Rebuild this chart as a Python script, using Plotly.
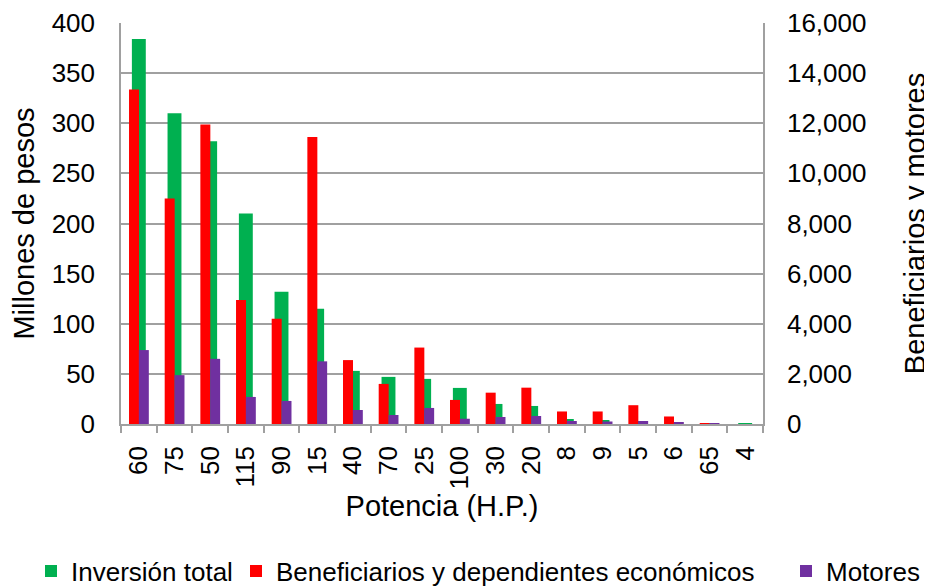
import plotly.graph_objects as go

potencia = ["60", "75", "50", "115", "90", "15", "40", "70", "25", "100",
            "30", "20", "8", "9", "5", "6", "65", "4"]
inversion = [384, 310, 282, 210, 132, 115, 53, 47, 45, 36,
             20, 18, 5, 4, 3, 1, 0.5, 0.2]
beneficiarios = [13350, 9000, 11950, 4950, 4200, 11450, 2550, 1600, 3050, 960,
                 1250, 1450, 500, 500, 750, 300, 20, 0]
motores = [2950, 1950, 2600, 1080, 920, 2500, 560, 360, 640, 210,
           280, 320, 120, 100, 120, 50, 20, 0]

FONT = "Liberation Sans, Arial, sans-serif"
GRID = "#a0a0a0"
# the page body has an 8px margin, so the figure is drawn 8px smaller
W, H = 924, 578

fig = go.Figure()
fig.add_trace(go.Bar(
    x=potencia, y=inversion, name="Inversión total",
    marker=dict(color="#00B050", line=dict(width=0)),
    width=0.39, offset=-0.195, yaxis="y", legend="legend",
))
fig.add_trace(go.Bar(
    x=potencia, y=beneficiarios, name="Beneficiarios y dependientes económicos",
    marker=dict(color="#FF0000", line=dict(width=0)),
    width=0.28, offset=-0.275, yaxis="y2", legend="legend2",
))
fig.add_trace(go.Bar(
    x=potencia, y=motores, name="Motores",
    marker=dict(color="#7030A0", line=dict(width=0)),
    width=0.28, offset=0.0, yaxis="y2", legend="legend3",
))

# one legend per series so the row can span the whole width
leg = dict(orientation="h", xref="container", yref="container",
           xanchor="left", y=1 - 563 / H, yanchor="middle",
           font=dict(size=26), itemwidth=30, bgcolor="rgba(0,0,0,0)")

fig.update_layout(
    width=W, height=H,
    margin=dict(l=113, r=169, t=15, b=162, autoexpand=False),
    paper_bgcolor="white", plot_bgcolor="white",
    font=dict(family=FONT, size=24, color="black"),
    barmode="overlay", showlegend=True,
    xaxis=dict(
        type="category", tickangle=-90, tickson="boundaries",
        ticks="outside", ticklen=7, tickcolor=GRID, tickwidth=1.5,
        showline=True, linecolor=GRID, linewidth=1.5,
        showgrid=False, automargin=False,
        tickfont=dict(size=26), ticklabelstandoff=10,
        title=dict(text="Potencia (H.P.)", standoff=5),
    ),
    yaxis=dict(
        range=[0, 400], dtick=50,
        showgrid=True, gridcolor=GRID, gridwidth=1.5,
        showline=True, linecolor=GRID, linewidth=1.5,
        ticks="", ticklabelstandoff=19, zeroline=False, automargin=False,
        tickfont=dict(size=26),
        title=dict(text="Millones de pesos", standoff=21),
    ),
    yaxis2=dict(
        range=[0, 16000], dtick=2000, tickformat=",d",
        overlaying="y", side="right",
        showgrid=False, zeroline=False, automargin=False,
        showline=True, linecolor=GRID, linewidth=1.5,
        ticks="", ticklabelstandoff=17,
        tickfont=dict(size=26),
        title=dict(text="Beneficiarios y motores", standoff=39),
    ),
    legend=dict(leg, x=23 / W),
    legend2=dict(leg, x=228 / W),
    legend3=dict(leg, x=778 / W),
)

fig.write_html("out.html")
